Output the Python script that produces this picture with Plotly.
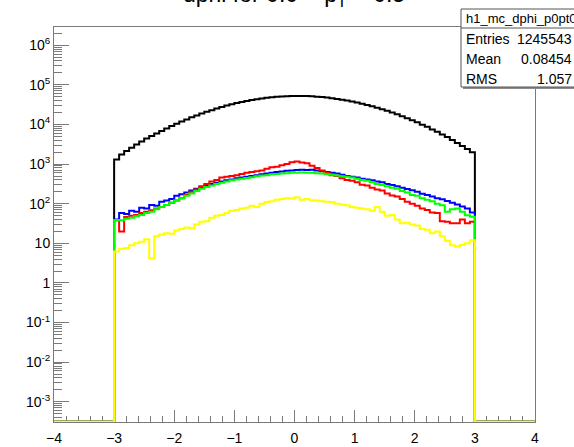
import numpy as np
import plotly.graph_objects as go

# ---------------- data (72 bins of width 1/12 between -3 and 3; histogram spans -4..4) ----------------
hist_lo, hist_hi, n_bins = -4.0, 4.0, 96
pad_bins = 12  # empty bins on each side (|dphi| > 3)

black_counts = [
    1300, 1750, 2150, 2600, 3100, 3700, 4400, 5100, 5900, 6800,
    7900, 9100, 10400, 11800, 13400, 15100, 16900, 18800, 20800, 23000,
    25200, 27500, 29900, 32300, 34700, 37000, 39300, 41500, 43500, 45400,
    47100, 48700, 50000, 51000, 51800, 52300, 52500, 52400, 52000, 51300,
    50400, 49200, 47600, 46000, 44200, 42200, 40200, 38000, 35800, 33500,
    31200, 28800, 26500, 24300, 22100, 20000, 18000, 16200, 14400, 12800,
    11300, 9900, 8700, 7500, 6500, 5600, 4800, 4050, 3420, 2880,
    2400, 2000]

blue_counts = [
    40, 58, 55, 66, 63, 79, 76, 93, 89, 112,
    120, 132, 158, 174, 191, 214, 240, 263, 288, 316,
    339, 363, 389, 407, 437, 457, 479, 501, 525, 550,
    575, 603, 631, 646, 676, 692, 708, 724, 708, 724,
    692, 661, 631, 603, 575, 537, 501, 479, 457, 427,
    407, 389, 363, 347, 316, 295, 275, 251, 234, 219,
    200, 178, 166, 151, 138, 129, 117, 105, 95, 85,
    76, 60]

red_counts = [
    38, 20, 46, 50, 52, 58, 63, 68, 76, 83,
    93, 105, 120, 138, 166, 200, 229, 275, 316, 363,
    398, 457, 479, 501, 525, 562, 603, 631, 661, 692,
    759, 832, 851, 933, 1000, 1120, 1170, 1100, 1050, 912,
    794, 692, 603, 525, 501, 437, 398, 380, 347, 302,
    288, 251, 229, 214, 182, 162, 151, 132, 112, 100,
    89, 76, 69, 60, 58, 36, 35, 32, 32, 40,
    32, 35]

green_counts = [
    39, 38, 42, 44, 48, 52, 58, 63, 72, 83,
    93, 105, 120, 138, 158, 182, 209, 240, 263, 288,
    316, 339, 363, 389, 407, 427, 447, 468, 490, 513,
    525, 550, 562, 575, 589, 603, 603, 617, 603, 603,
    589, 575, 550, 537, 513, 490, 479, 457, 427, 398,
    380, 347, 316, 295, 275, 251, 240, 209, 191, 166,
    158, 138, 126, 115, 100, 91, 63, 72, 76, 63,
    51, 47]

yellow_counts = [
    6.2, 7.2, 7.6, 8.9, 10, 11, 12.6, 4.2, 15, 16.6,
    18, 17.4, 21, 23, 25, 24, 30, 35, 36, 44,
    50, 52, 58, 66, 69, 76, 79, 89, 83, 100,
    110, 115, 126, 132, 138, 135, 145, 126, 132, 123,
    120, 115, 112, 110, 100, 95, 91, 83, 79, 76,
    72, 66, 83, 63, 50, 52, 40, 32, 33, 30,
    28, 23, 22, 18, 20, 15, 11.5, 8.9, 8.3, 9.1,
    10, 12]

series_names = ["black", "blue", "red", "green", "yellow"]
series_counts = [black_counts, blue_counts, red_counts, green_counts, yellow_counts]
series_colors = ["#000000", "#0000ff", "#ff0000", "#00ff00", "#ffff00"]

x_tick_vals = [-4, -3, -2, -1, 0, 1, 2, 3, 4]
y_decades = [-3, -2, -1, 0, 1, 2, 3, 4, 5, 6]
y_tick_text = ["10<sup>-3</sup>", "10<sup>-2</sup>", "10<sup>-1</sup>", "1", "10",
               "10<sup>2</sup>", "10<sup>3</sup>", "10<sup>4</sup>", "10<sup>5</sup>", "10<sup>6</sup>"]

title_text = "dphi for 0.0 < p<sub>T</sub> < 0.5"
stats_title = "h1_mc_dphi_p0pt0"
stats_rows = [("Entries", "1245543"), ("Mean", "0.08454"), ("RMS", "1.057")]

# ---------------- layout geometry ----------------
W, H = 574, 447
L, R, T, B = 54, 535, 27, 422          # plot-area pixel box
y_log_lo, y_log_hi = -3.51, 6.46
axis_col = "#7a7a7a"
font_family = "Liberation Sans, Arial, Helvetica, sans-serif"

def px(xp):
    return (xp - L) / (R - L)

def py(yp):
    return (B - yp) / (B - T)

edges = np.linspace(hist_lo, hist_hi, n_bins + 1)
floor_val = 10 ** (y_log_lo + 0.006)

fig = go.Figure()
for name, counts, col in zip(series_names, series_counts, series_colors):
    full = [0] * pad_bins + list(counts) + [0] * pad_bins
    full = [c if c > 0 else floor_val for c in full]
    yv = full + [full[-1]]
    fig.add_trace(go.Scatter(x=edges, y=yv, mode="lines", line_shape="hv",
                             line=dict(color=col, width=2), name=name,
                             hoverinfo="skip", showlegend=False))

minor_y = [m * 10.0 ** e for e in range(-4, 7) for m in range(2, 10)]

fig.update_layout(
    width=W, height=H,
    margin=dict(l=L, r=W - R, t=T, b=H - B, pad=0, autoexpand=False),
    paper_bgcolor="white", plot_bgcolor="white",
    font=dict(family=font_family, color="black", size=14),
    showlegend=False,
    xaxis=dict(range=[hist_lo, hist_hi], tickmode="array", tickvals=x_tick_vals,
               ticks="inside", ticklen=12, tickwidth=1, tickcolor=axis_col,
               minor=dict(ticks="inside", ticklen=6, dtick=0.2, tick0=0, tickcolor=axis_col, showgrid=False),
               showline=True, linecolor=axis_col, linewidth=1, mirror=True,
               showgrid=False, zeroline=False, tickfont=dict(size=14),
               ticklabelstandoff=3, automargin=False,
               layer="below traces"),
    yaxis=dict(type="log", range=[y_log_lo, y_log_hi], tickmode="array",
               tickvals=[10.0 ** d for d in y_decades], ticktext=y_tick_text,
               ticks="inside", ticklen=15, tickwidth=1, tickcolor=axis_col,
               minor=dict(ticks="inside", ticklen=8, tickmode="array", tickvals=minor_y,
                          tickcolor=axis_col, showgrid=False),
               showline=True, linecolor=axis_col, linewidth=1, mirror=True,
               showgrid=False, zeroline=False, tickfont=dict(size=14),
               automargin=False,
               layer="below traces"),
)

# title (mostly clipped at the top of the canvas, as in the original)
fig.add_annotation(text=title_text, xref="paper", yref="paper", x=px(294), y=py(12),
                   xanchor="center", yanchor="bottom", showarrow=False,
                   font=dict(size=23, family=font_family, color="black"))

# stats box
bx0, bx1, by0, bsep, by1 = 461, 590, 9, 28, 87
fig.add_shape(type="rect", xref="paper", yref="paper",
              x0=px(bx0 + 2), x1=px(bx1 + 2), y0=py(by1 + 2), y1=py(by0 + 2),
              line=dict(width=0), fillcolor="#8c8c8c", layer="above")
fig.add_shape(type="rect", xref="paper", yref="paper",
              x0=px(bx0), x1=px(bx1), y0=py(by1), y1=py(by0),
              line=dict(color="#555555", width=1), fillcolor="white", layer="above")
fig.add_shape(type="line", xref="paper", yref="paper",
              x0=px(bx0), x1=px(bx1), y0=py(bsep), y1=py(bsep),
              line=dict(color="#555555", width=1), layer="above")
fig.add_annotation(text=stats_title, xref="paper", yref="paper", x=px(464), y=py(18.5),
                   xanchor="left", yanchor="middle", showarrow=False,
                   font=dict(size=13, family=font_family, color="black"))
row_y = [39, 59, 79]
for (lab, val), yy in zip(stats_rows, row_y):
    fig.add_annotation(text=lab, xref="paper", yref="paper", x=px(464), y=py(yy),
                       xanchor="left", yanchor="middle", showarrow=False,
                       font=dict(size=14, family=font_family, color="black"))
    fig.add_annotation(text=val, xref="paper", yref="paper", x=px(574), y=py(yy),
                       xanchor="right", yanchor="middle", showarrow=False,
                       font=dict(size=14, family=font_family, color="black"))

fig.write_html("out.html")
